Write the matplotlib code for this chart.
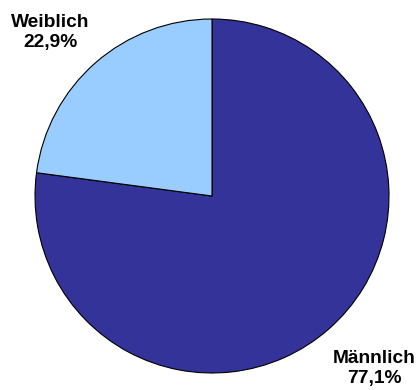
import matplotlib.pyplot as plt

labels = ['Männlich', 'Weiblich']
shares = [77.1, 22.9]
colors = ['#333399', '#99CCFF']

plt.rcParams['font.family'] = ['Liberation Sans', 'DejaVu Sans']

fig = plt.figure(figsize=(4.19, 3.9), dpi=100)
# axes box sized so the pie fills it (radius 1 in data units)
ax = fig.add_axes([35 / 419, 17 / 390, 354 / 419, 354 / 390])
ax.pie(shares, colors=colors, startangle=90, counterclock=False, radius=1,
       wedgeprops=dict(edgecolor='black', linewidth=0.8))
ax.set_xlim(-1, 1)
ax.set_ylim(-1, 1)
ax.set_aspect('equal')
ax.axis('off')

def fmt(v):
    return ('%.1f%%' % v).replace('.', ',')

# label positions in pie coordinates
pos = {'Männlich': (0.915, -0.975), 'Weiblich': (-0.915, 0.925)}
for name, val in zip(labels, shares):
    x, y = pos[name]
    ax.text(x, y, name + '\n' + fmt(val), ha='center', va='center',
            fontsize=13.8, fontweight='bold', linespacing=1.2, clip_on=False)

fig.savefig('out.png', dpi=100)
